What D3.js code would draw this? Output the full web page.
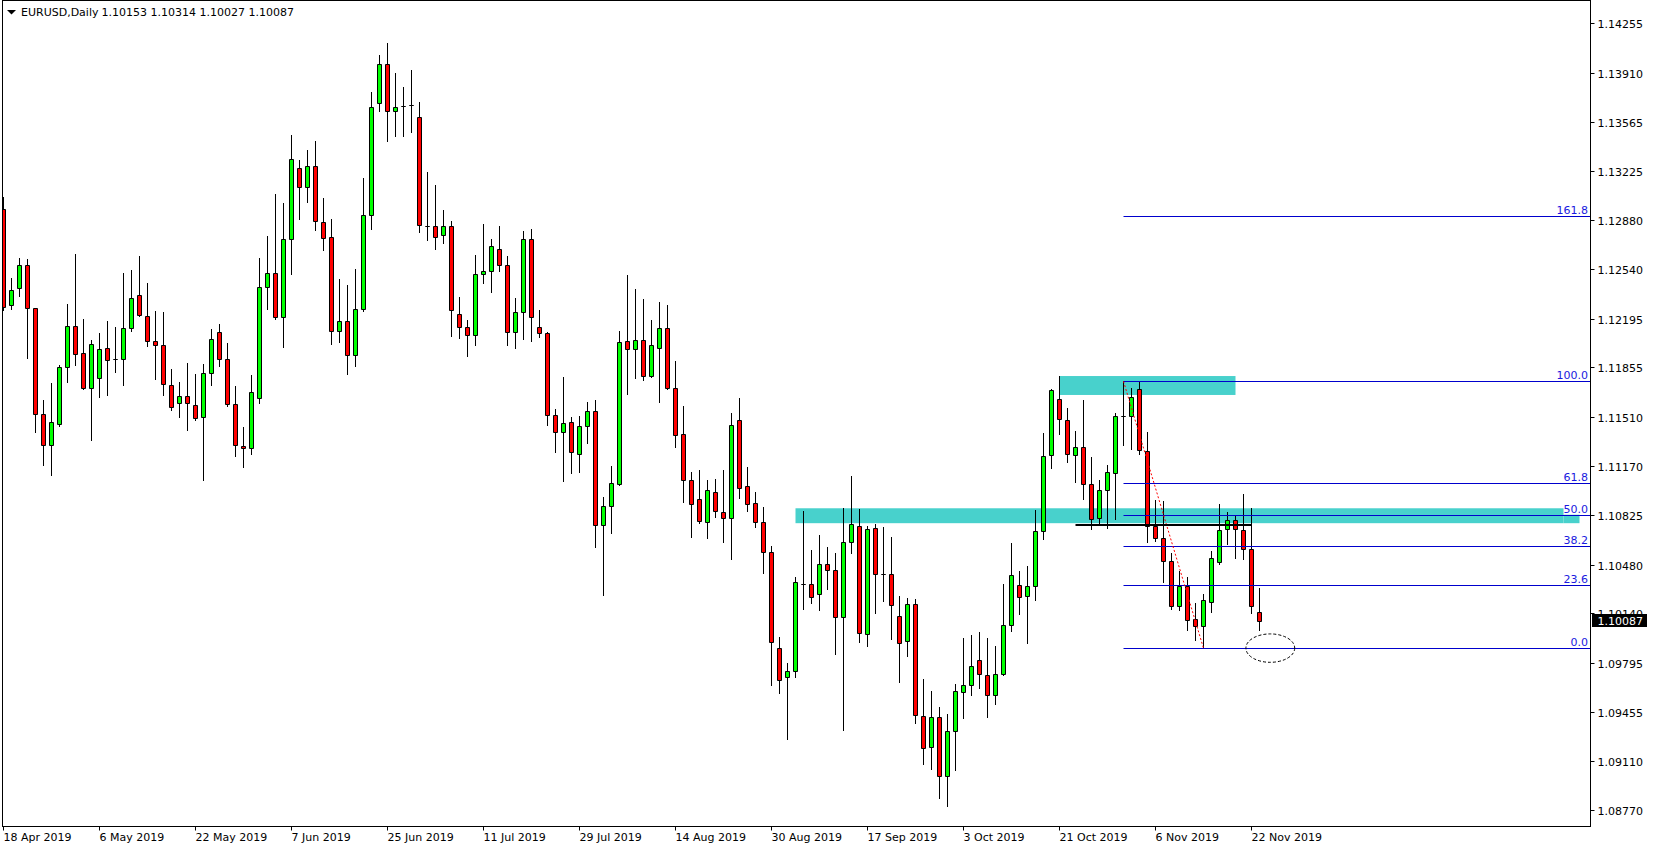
<!DOCTYPE html>
<html><head><meta charset="utf-8">
<script src="https://cdn.jsdelivr.net/npm/d3@7"></script>
<style>
html,body{margin:0;padding:0;background:#fff;overflow:hidden}
svg{display:block}
text{font-family:"DejaVu Sans",Verdana,sans-serif;font-size:11px}
</style></head><body>
<svg id="c" width="1654" height="850"></svg>
<script>
// ---------- data ----------
const symbol = "EURUSD,Daily";
const titleValues = ["1.10153", "1.10314", "1.10027", "1.10087"];
const firstDate = new Date(2019, 3, 18);

const open = [1.12960,1.12288,1.12407,1.12567,1.12267,1.11528,1.11312,1.11459,1.11856,1.12142,
1.11954,1.11714,1.11783,1.11988,1.11912,1.11912,1.12128,1.12358,1.12212,1.12037,
1.12009,1.11730,1.11605,1.11654,1.11591,1.11507,1.11814,1.12100,1.11912,1.11598,
1.11305,1.11291,1.11640,1.12414,1.12511,1.12205,1.12748,1.13243,1.13111,1.13257,
1.12867,1.12762,1.12107,1.12177,1.11940,1.12259,1.12916,1.13698,1.13968,1.13644,
1.13679,1.13687,1.13599,1.12841,1.12844,1.12775,1.12844,1.12225,1.12140,1.12078,
1.12503,1.12524,1.12684,1.12572,1.12100,1.12239,1.12753,1.12140,1.12093,1.11521,
1.11403,1.11472,1.11249,1.11445,1.11549,1.10754,1.10887,1.11040,1.12037,1.11981,
1.12044,1.11797,1.11988,1.12128,1.11710,1.11389,1.11068,1.10936,1.10775,1.10984,
1.10845,1.10803,1.11486,1.11026,1.10908,1.10775,1.10566,1.09897,1.09695,1.09736,
1.10345,1.10343,1.10273,1.10482,1.10441,1.10113,1.10636,1.10747,1.09994,1.10733,
1.10413,1.10413,1.10120,1.09946,1.10204,1.09423,1.09207,1.09416,1.09004,1.09318,
1.09590,1.09639,1.09813,1.09709,1.09569,1.09716,1.10057,1.10336,1.10259,1.10329,
1.10713,1.11242,1.11633,1.11486,1.11242,1.11298,1.11040,1.10803,1.10998,1.11117,
1.11518,1.11514,1.11703,1.11270,1.10747,1.10664,1.10503,1.10194,1.10329,1.10099,
1.10054,1.10222,1.10496,1.10726,1.10789,1.10719,1.10587,1.10153];

const high = [1.13045,1.12479,1.12618,1.12611,1.12270,1.11628,1.11746,1.11872,1.12297,1.12646,
1.12193,1.12046,1.12095,1.12179,1.12137,1.12513,1.12534,1.12632,1.12444,1.12248,
1.12241,1.11842,1.11753,1.11888,1.11809,1.11879,1.12123,1.12158,1.12023,1.11726,
1.11440,1.11802,1.12618,1.12771,1.13064,1.13001,1.13476,1.13301,1.13371,1.13434,
1.13036,1.12888,1.12472,1.12430,1.12541,1.13176,1.13775,1.14031,1.14117,1.13908,
1.13810,1.13927,1.13706,1.13218,1.13127,1.12953,1.12874,1.12345,1.12188,1.12639,
1.12855,1.12750,1.12841,1.12631,1.12340,1.12807,1.12820,1.12255,1.12100,1.11565,
1.11788,1.11507,1.11514,1.11612,1.11626,1.10950,1.11166,1.12107,1.12499,1.12400,
1.12330,1.12184,1.12309,1.12288,1.11898,1.11584,1.11124,1.11138,1.11068,1.11075,
1.11138,1.11535,1.11640,1.11159,1.10984,1.10880,1.10608,1.09973,1.09792,1.10392,
1.10852,1.10580,1.10685,1.10601,1.10559,1.10873,1.11096,1.10866,1.10747,1.10761,
1.10740,1.10676,1.10259,1.10245,1.10241,1.09683,1.09599,1.09488,1.09439,1.09646,
1.09969,1.09990,1.10010,1.09969,1.09913,1.10345,1.10631,1.10436,1.10471,1.10859,
1.11396,1.11703,1.11795,1.11570,1.11412,1.11626,1.11231,1.11068,1.11173,1.11537,
1.11758,1.11710,1.11755,1.11405,1.10929,1.10922,1.10559,1.10434,1.10392,1.10211,
1.10277,1.10573,1.10903,1.10845,1.10817,1.10973,1.10873,1.10314];

const low = [1.12255,1.12260,1.12355,1.11923,1.11407,1.11177,1.11107,1.11449,1.11756,1.11874,
1.11705,1.11351,1.11651,1.11665,1.11825,1.11735,1.12111,1.12215,1.12007,1.11776,
1.11665,1.11556,1.11507,1.11421,1.11486,1.11072,1.11735,1.11867,1.11588,1.11240,
1.11163,1.11254,1.11605,1.12264,1.12195,1.12000,1.12509,1.12892,1.13010,1.12815,
1.12676,1.12020,1.12034,1.11811,1.11867,1.12251,1.12823,1.13644,1.13434,1.13469,
1.13469,1.13495,1.12799,1.12746,1.12681,1.12724,1.12073,1.12060,1.11934,1.12014,
1.12444,1.12382,1.12527,1.12014,1.11993,1.12052,1.12039,1.12065,1.11457,1.11267,
1.11065,1.11121,1.11128,1.11326,1.10605,1.10271,1.10703,1.11035,1.11672,1.11783,
1.11769,1.11790,1.11616,1.11705,1.11302,1.10919,1.10671,1.10768,1.10664,1.10810,
1.10641,1.10521,1.10943,1.10856,1.10740,1.10424,1.09639,1.09587,1.09267,1.09695,
1.10173,1.10211,1.10162,1.10308,1.09855,1.09329,1.10559,1.09939,1.09911,1.10141,
1.10229,1.09964,1.09664,1.09841,1.09378,1.09092,1.09057,1.08855,1.08799,1.09050,
1.09413,1.09573,1.09622,1.09420,1.09511,1.09709,1.10015,1.10134,1.09932,1.10231,
1.10657,1.11152,1.11389,1.11194,1.11058,1.10936,1.10731,1.10768,1.10738,1.10800,
1.11316,1.11284,1.11249,1.10640,1.10647,1.10361,1.10173,1.10166,1.10026,1.09957,
1.09897,1.10152,1.10485,1.10626,1.10528,1.10521,1.10145,1.10027];

const close = [1.12278,1.12393,1.12567,1.12267,1.11528,1.11312,1.11472,1.11856,1.12142,1.11947,
1.11714,1.12016,1.11981,1.11909,1.11912,1.12128,1.12337,1.12218,1.12037,1.12009,
1.11737,1.11577,1.11654,1.11605,1.11500,1.11814,1.12051,1.11912,1.11598,1.11312,
1.11291,1.11682,1.12414,1.12511,1.12205,1.12748,1.13306,1.13111,1.13257,1.12874,
1.12755,1.12107,1.12177,1.11940,1.12260,1.12916,1.13674,1.13968,1.13644,1.13674,
1.13679,1.13687,1.12849,1.12841,1.12766,1.12844,1.12257,1.12140,1.12078,1.12503,
1.12524,1.12700,1.12572,1.12100,1.12239,1.12753,1.12204,1.12094,1.11521,1.11403,
1.11466,1.11263,1.11445,1.11549,1.10754,1.10887,1.11047,1.12030,1.11981,1.12044,
1.11797,1.12009,1.12128,1.11710,1.11382,1.11068,1.10901,1.10782,1.10998,1.10852,
1.10803,1.11452,1.11012,1.10901,1.10775,1.10566,1.09939,1.09674,1.09736,1.10357,
1.10345,1.10252,1.10482,1.10441,1.10113,1.10636,1.10761,1.10001,1.10726,1.10413,
1.10413,1.10197,1.09932,1.10204,1.09430,1.09200,1.09416,1.09004,1.09318,1.09597,
1.09639,1.09771,1.09716,1.09569,1.09716,1.10057,1.10406,1.10252,1.10329,1.10713,
1.11235,1.11695,1.11493,1.11249,1.11298,1.11040,1.10796,1.10998,1.11124,1.11514,
1.11518,1.11648,1.11277,1.10747,1.10664,1.10503,1.10194,1.10329,1.10092,1.10054,
1.10231,1.10524,1.10719,1.10789,1.10726,1.10587,1.10194,1.10087];

const priceTicks = [1.14255,1.13910,1.13565,1.13225,1.12880,1.12540,1.12195,1.11855,1.11510,
1.11170,1.10825,1.10480,1.10140,1.09795,1.09455,1.09110,1.08770];
const dateTicks = ["18 Apr 2019","6 May 2019","22 May 2019","7 Jun 2019","25 Jun 2019","11 Jul 2019",
"29 Jul 2019","14 Aug 2019","30 Aug 2019","17 Sep 2019","3 Oct 2019","21 Oct 2019","6 Nov 2019","22 Nov 2019"];

// Fibonacci retracement (anchored from bar 140 high to bar 150 low)
const fibBars = [140, 150];
const fibPrices = [1.11758, 1.09897];
const fibLevels = [0, 23.6, 38.2, 50, 61.8, 100, 161.8];
// supply / demand zones: [bar from, bar to, price top, price bottom]
const zoneBarsFrom = [132, 99, 195];
const zoneBarsTo = [154, 195, 197];
const zoneTop = [1.11795, 1.10873, 1.10828];
const zoneBottom = [1.11663, 1.10769, 1.10769];
// black horizontal level
const levelBars = [134, 156];
const levelPrice = 1.10759;
// ellipse bounds
const ellipseBars = [155.3, 161.4];
const ellipsePrices = [1.09997, 1.09799];

// ---------- drawing ----------
const svg = d3.select("#c");
const L = 2.5, T = 0.5, R = 1590.5, B = 826.5;
const n = open.length;

const x = d3.scaleLinear().domain([0, n - 1]).range([3.5, 3.5 + 8 * (n - 1)]);
const y = d3.scaleLinear().domain([1.08770, 1.14255]).range([809.9, 23.2]);
const sy = v => Math.round(y(v)) + 0.5;

const dates = [];
for (let d = firstDate; dates.length < n; d = d3.timeDay.offset(d, 1)) {
  const wd = d.getDay();
  if (wd !== 0 && wd !== 6) dates.push(d);
}
const fmt = d3.timeFormat("%-d %b %Y");

svg.append("rect").attr("width", 1654).attr("height", 850).attr("fill", "#fff");
svg.append("clipPath").attr("id", "plot").append("rect")
  .attr("x", L + 0.5).attr("y", T + 0.5).attr("width", R - L - 1).attr("height", B - T - 1);
const plot = svg.append("g").attr("clip-path", "url(#plot)");

// zones
plot.selectAll("rect.zone").data(zoneTop).join("rect").attr("class", "zone")
  .attr("x", (d, i) => x(zoneBarsFrom[i]))
  .attr("width", (d, i) => x(zoneBarsTo[i]) - x(zoneBarsFrom[i]))
  .attr("y", (d, i) => y(zoneTop[i]))
  .attr("height", (d, i) => y(zoneBottom[i]) - y(zoneTop[i]))
  .attr("fill", "#48D1CC");

// candles
const idx = d3.range(n);
const cg = plot.append("g");
cg.selectAll("line.wick").data(idx).join("line").attr("class", "wick")
  .attr("x1", i => x(i)).attr("x2", i => x(i))
  .attr("y1", i => sy(high[i]) - 0.5).attr("y2", i => sy(low[i]) + 0.5)
  .attr("stroke", "#000").attr("stroke-width", 1);
cg.selectAll("path.body").data(idx).join("path").attr("class", "body")
  .attr("d", i => {
    const x0 = x(i) - 2, x1 = x(i) + 2;
    const y0 = sy(Math.max(open[i], close[i])), y1 = sy(Math.min(open[i], close[i]));
    return `M${x0},${y0}H${x1}V${y1}H${x0}Z`;
  })
  .attr("fill", i => close[i] > open[i] ? "#00FF00" : "#FF0000")
  .attr("stroke", "#000").attr("stroke-width", 1);

// fib levels
const fibRange = fibPrices[0] - fibPrices[1];
const fibG = plot.append("g");
fibG.selectAll("line").data(fibLevels).join("line")
  .attr("x1", x(fibBars[0])).attr("x2", R)
  .attr("y1", d => sy(fibPrices[1] + fibRange * d / 100))
  .attr("y2", d => sy(fibPrices[1] + fibRange * d / 100))
  .attr("stroke", "#0000CD").attr("stroke-width", 1);
fibG.selectAll("text").data(fibLevels).join("text")
  .attr("x", R - 2.5).attr("y", d => sy(fibPrices[1] + fibRange * d / 100) - 3)
  .attr("text-anchor", "end").attr("fill", "#1a1ae0")
  .text(d => d.toFixed(1));
plot.append("line")
  .attr("x1", x(fibBars[0])).attr("y1", y(fibPrices[0]))
  .attr("x2", x(fibBars[1])).attr("y2", y(fibPrices[1]))
  .attr("stroke", "#FF0000").attr("stroke-width", 1).attr("stroke-dasharray", "2,2");

// horizontal level
plot.append("line")
  .attr("x1", x(levelBars[0])).attr("x2", x(levelBars[1]))
  .attr("y1", Math.round(y(levelPrice))).attr("y2", Math.round(y(levelPrice)))
  .attr("stroke", "#000").attr("stroke-width", 2);

// ellipse
plot.append("ellipse")
  .attr("cx", (x(ellipseBars[0]) + x(ellipseBars[1])) / 2)
  .attr("cy", (y(ellipsePrices[0]) + y(ellipsePrices[1])) / 2)
  .attr("rx", (x(ellipseBars[1]) - x(ellipseBars[0])) / 2)
  .attr("ry", (y(ellipsePrices[1]) - y(ellipsePrices[0])) / 2)
  .attr("fill", "none").attr("stroke", "#000").attr("stroke-width", 1).attr("stroke-dasharray", "3,2");

// frame
svg.append("rect").attr("x", L).attr("y", T).attr("width", R - L).attr("height", B - T)
  .attr("fill", "none").attr("stroke", "#000").attr("stroke-width", 1);

// right price axis
const pa = svg.append("g");
pa.selectAll("line").data(priceTicks).join("line")
  .attr("x1", R).attr("x2", R + 4).attr("y1", d => sy(d)).attr("y2", d => sy(d))
  .attr("stroke", "#000");
pa.selectAll("text").data(priceTicks).join("text")
  .attr("x", 1597.5).attr("y", d => Math.round(y(d)) + 4.5)
  .attr("fill", "#000").text(d => d.toFixed(5));

// current price marker
const last = close[n - 1];
svg.append("rect").attr("x", 1592).attr("y", Math.round(y(last)) - 7).attr("width", 55).attr("height", 13).attr("fill", "#000");
svg.append("text").attr("x", 1597.5).attr("y", Math.round(y(last)) + 4)
  .attr("fill", "#fff").text(last.toFixed(5));

// bottom date axis
const tickIdx = dateTicks.map(s => dates.findIndex(d => fmt(d) === s));
const da = svg.append("g");
da.selectAll("line").data(tickIdx).join("line")
  .attr("x1", i => x(i)).attr("x2", i => x(i)).attr("y1", B).attr("y2", B + 4)
  .attr("stroke", "#000");
da.selectAll("text").data(tickIdx).join("text")
  .attr("x", i => x(i)).attr("y", 841)
  .attr("fill", "#000").text(i => fmt(dates[i]));

// title
svg.append("path").attr("d", "M7,10H16L11.5,14.5Z").attr("fill", "#000");
svg.append("text").attr("x", 21).attr("y", 16).attr("fill", "#000").text(symbol);
svg.append("text").attr("x", 101.5).attr("y", 16).attr("fill", "#000")
  .attr("style", "white-space:pre").text(titleValues.join(" "));
</script>
</body></html>
